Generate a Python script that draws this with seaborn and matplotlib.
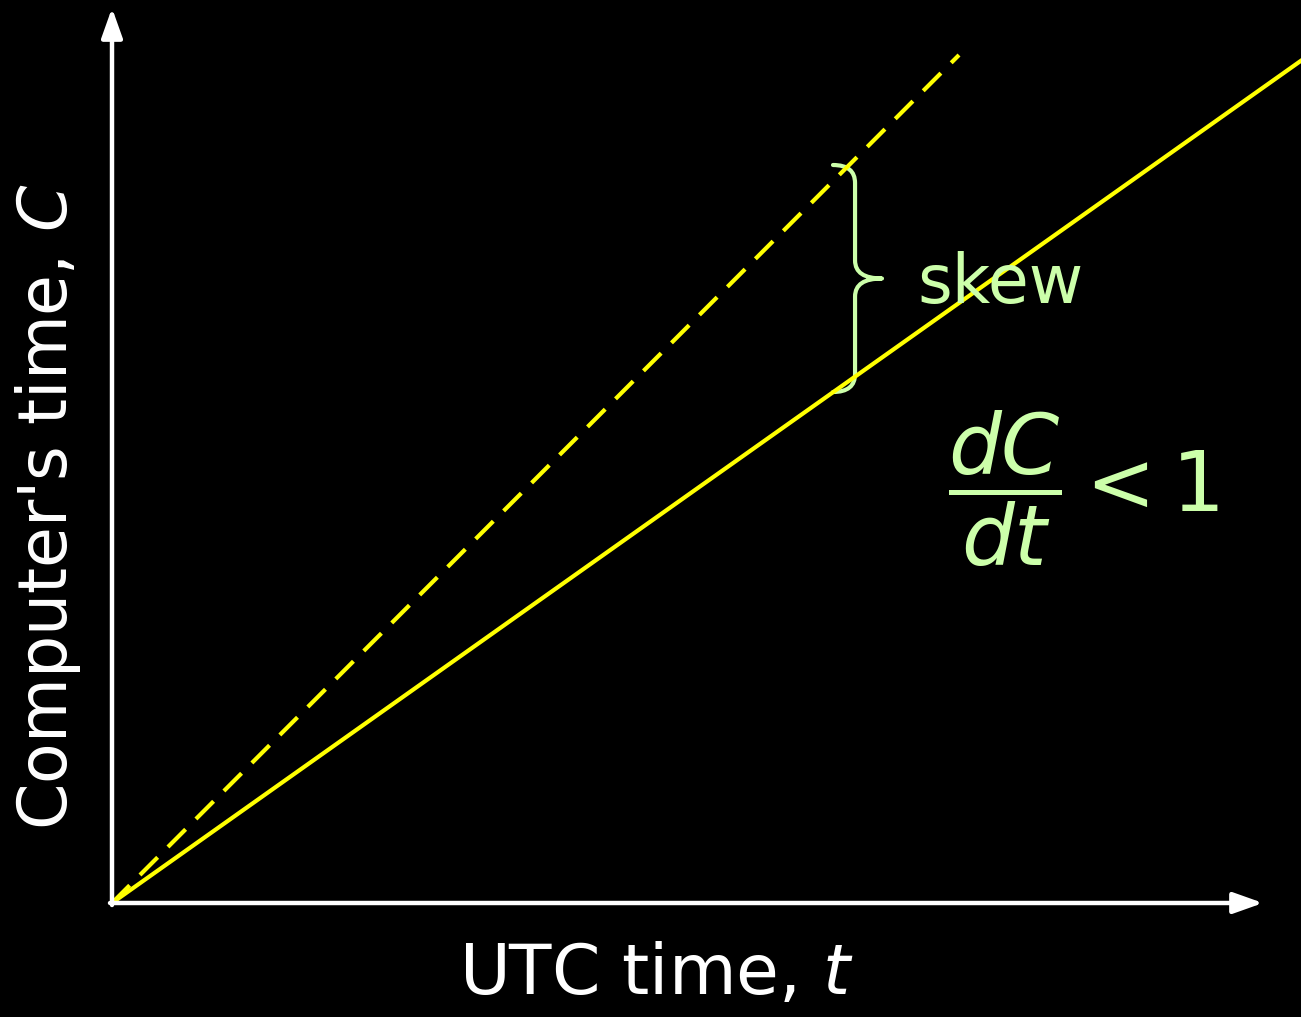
import matplotlib

matplotlib.use("Agg")
import matplotlib.pyplot as plt
import numpy as np
import pandas as pd
import seaborn as sns
from matplotlib.patches import PathPatch
from matplotlib.path import Path

# UTC time t and computer clock C (arbitrary units, 1 unit ~ 100 px)
utc_perfect = [0.0, 8.47]
clock_perfect = [0.0, 8.48]
utc_slow = [0.0, 11.9]
clock_slow = [0.0, 8.43]

x_label = "UTC time, $t$"
y_label = "Computer's time, $C$"
skew_label = "skew"
rate_label = r"$\dfrac{dC}{dt}<1$"

YELLOW = "#ffff00"
GREEN = "#ccffaa"


def curly_brace(ax, x, y0, y1, width, color, lw):
    ym = (y0 + y1) / 2
    a = width * 0.45
    r = 0.18
    verts = [
        (x, y1), (x + a, y1), (x + a, y1 - r),
        (x + a, ym + r),
        (x + a, ym), (x + width, ym),
        (x + a, ym), (x + a, ym - r),
        (x + a, y0 + r),
        (x + a, y0), (x, y0),
    ]
    codes = [
        Path.MOVETO, Path.CURVE3, Path.CURVE3,
        Path.LINETO,
        Path.CURVE3, Path.CURVE3,
        Path.CURVE3, Path.CURVE3,
        Path.LINETO,
        Path.CURVE3, Path.CURVE3,
    ]
    patch = PathPatch(Path(verts, codes), facecolor="none", edgecolor=color,
                      lw=lw, capstyle="round", joinstyle="round")
    ax.add_patch(patch)


sns.set_theme(style="dark", rc={"figure.facecolor": "black",
                                "axes.facecolor": "black"})
plt.rcParams["font.family"] = ["DejaVu Sans"]
plt.rcParams["mathtext.fontset"] = "dejavusans"

fig = plt.figure(figsize=(13.01, 10.17), dpi=100)
ax = fig.add_axes([0, 0, 1, 1])
ax.set_xlim(-1.12, 11.89)
ax.set_ylim(-1.14, 9.03)
ax.set_axis_off()

df_perfect = pd.DataFrame({"t": utc_perfect, "C": clock_perfect})
df_slow = pd.DataFrame({"t": utc_slow, "C": clock_slow})

sns.lineplot(data=df_slow, x="t", y="C", color=YELLOW, lw=3, ax=ax)
sns.lineplot(data=df_perfect, x="t", y="C", color=YELLOW, lw=3, ax=ax)
ax.lines[-1].set_dashes((6, 3.5))

# axes with arrowheads
arrow = dict(arrowstyle="-|>,head_length=0.9,head_width=0.32", color="white",
             lw=3.2, mutation_scale=20, shrinkA=0, shrinkB=0)
ax.annotate("", xy=(11.51, 0), xytext=(-0.02, 0), arrowprops=arrow)
ax.annotate("", xy=(0, 8.95), xytext=(0, -0.02), arrowprops=arrow)

# skew brace between the two clocks
curly_brace(ax, 7.21, 5.11, 7.38, 0.49, GREEN, 3)
ax.text(8.05, 6.0, skew_label, color=GREEN, fontsize=48, va="baseline", ha="left")
ax.text(8.36, 4.14, rate_label, color=GREEN, fontsize=60, va="center", ha="left")

ax.text(5.45, -0.72, x_label, color="white", fontsize=50, ha="center", va="center")
ax.text(-0.64, 3.96, y_label, color="white", fontsize=48, ha="center",
        va="center", rotation=90)

fig.savefig("out.png", dpi=100, facecolor="black")
